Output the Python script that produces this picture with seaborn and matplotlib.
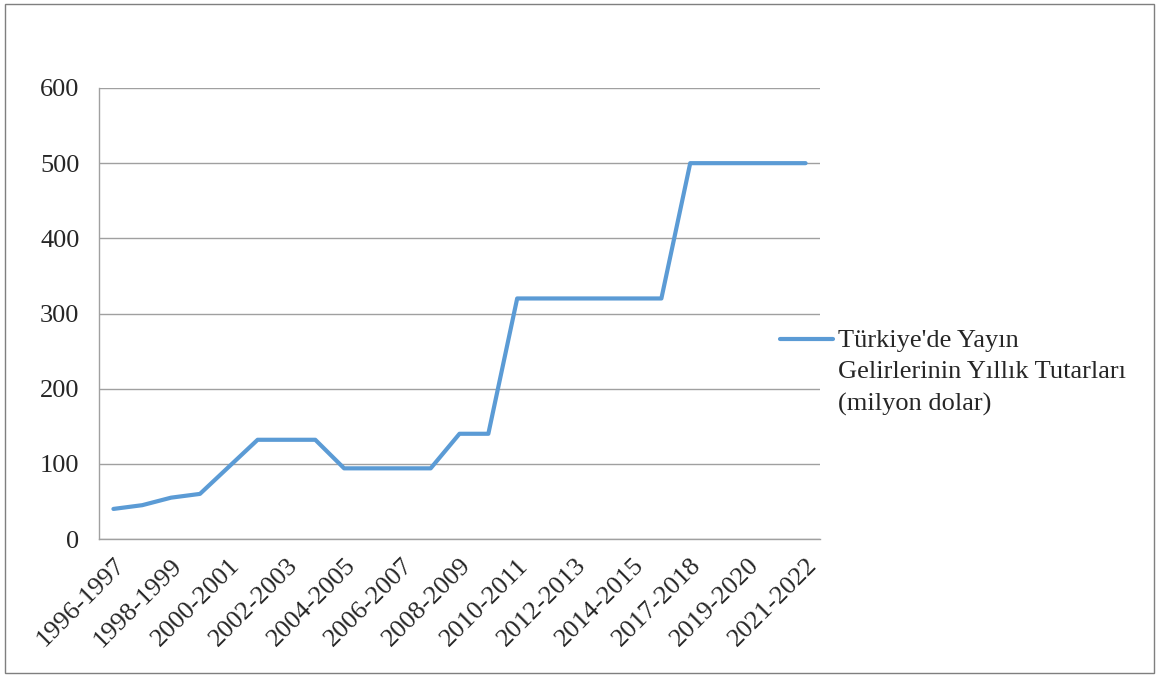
import numpy as np
import pandas as pd
import seaborn as sns
import matplotlib
matplotlib.use('Agg')
import matplotlib.pyplot as plt
from matplotlib.patches import Rectangle

periods = ['1996-1997', '1997-1998', '1998-1999', '1999-2000', '2000-2001',
           '2001-2002', '2002-2003', '2003-2004', '2004-2005', '2005-2006',
           '2006-2007', '2007-2008', '2008-2009', '2009-2010', '2010-2011',
           '2011-2012', '2012-2013', '2013-2014', '2014-2015', '2015-2016',
           '2017-2018', '2018-2019', '2019-2020', '2020-2021', '2021-2022']
revenue = [40, 45, 55, 60, 96, 132, 132, 132, 94, 94, 94, 94, 140, 140,
           320, 320, 320, 320, 320, 320, 500, 500, 500, 500, 500]
series_name = "Türkiye'de Yayın\nGelirlerinin Yıllık Tutarları\n(milyon dolar)"

df = pd.DataFrame({'idx': np.arange(len(periods)), 'period': periods, 'value': revenue})

sns.set_style('white')
plt.rcParams['font.family'] = ['Liberation Serif', 'DejaVu Serif']

fig = plt.figure(figsize=(11.59, 6.77), dpi=100)
ax = fig.add_axes([99/1159, 1 - 539/677, (820-99)/1159, (539-88)/677])

sns.lineplot(data=df, x='idx', y='value', color='#5B9BD5', linewidth=3,
             label=series_name, ax=ax)

ax.set_xlim(-0.5, len(periods) - 0.5)
ax.set_ylim(0, 600)
ax.set_yticks(range(0, 601, 100))
ax.yaxis.grid(True, color='#A0A0A0', linewidth=1)
ax.set_axisbelow(True)

ax.set_xticks(df['idx'][::2])
ax.set_xticklabels(df['period'][::2], rotation=45, ha='right',
                   rotation_mode='anchor')
ax.set_xticks(np.arange(-0.5, len(periods), 1), minor=True)
ax.tick_params(axis='x', which='major', length=0, pad=11, labelsize=19)
ax.tick_params(axis='x', which='minor', length=6, color='#A0A0A0', width=1, direction='out')
ax.tick_params(axis='y', length=6, color='#A0A0A0', width=1, direction='out', labelsize=19, pad=8)

for s in ['top', 'right']:
    ax.spines[s].set_visible(False)
for s in ['left', 'bottom']:
    ax.spines[s].set_color('#A0A0A0')
    ax.spines[s].set_linewidth(1)

ax.set_xlabel('')
ax.set_ylabel('')

leg = ax.legend(loc='upper left', bbox_to_anchor=(780/1159, 1 - 330/677),
                bbox_transform=fig.transFigure, frameon=False, fontsize=19,
                handlelength=2.0, handletextpad=0.2, borderaxespad=0, borderpad=0)
for t in leg.get_texts():
    t.set_linespacing(1.55)
for col in leg._legend_handle_box.get_children():
    for row in col.get_children():
        row.align = 'top'

fig.patches.append(Rectangle((5/1159, 4/677), 1149/1159, 669/677, transform=fig.transFigure,
                             fill=False, edgecolor='#7F7F7F', linewidth=1))

fig.savefig('out.png', dpi=100)
